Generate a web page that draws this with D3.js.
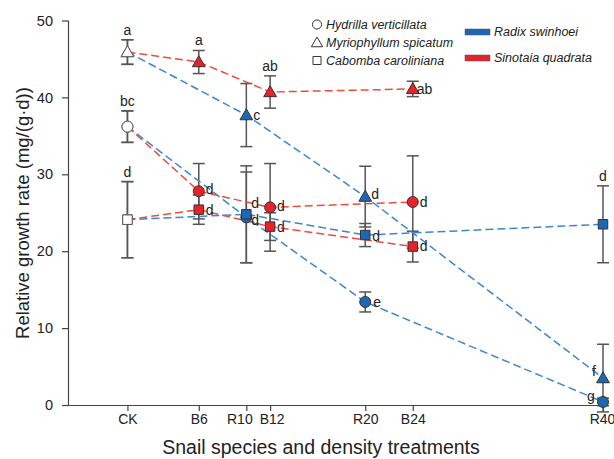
<!DOCTYPE html>
<html><head><meta charset="utf-8">
<script src="https://cdn.jsdelivr.net/npm/d3@7"></script>
<style>
body{margin:0;background:#fff;}
svg{font-family:"Liberation Sans",Arial,sans-serif;}
</style></head>
<body><svg id="c" width="614" height="459"></svg>
<script>
// ---- data ----
const tickNames = ["CK","B6","R10","B12","R20","B24","R40"];
const tickVals  = [0, 6, 10, 12, 20, 24, 40];
const yTicks = [0,10,20,30,40,50];

const radixX = [0, 10, 20, 40];
const sinoX  = [0, 6, 12, 24];

const hydRadixMean = [36.2, 24.4, 13.4, 0.4];
const hydRadixErr  = [2.05, 5.9, 1.3, 0.5];
const hydSinoMean  = [36.2, 27.8, 25.7, 26.4];
const hydSinoErr   = [2.05, 3.6, 5.7, 6.0];

const myrRadixMean = [45.9, 37.7, 27.1, 3.5];
const myrRadixErr  = [1.6, 4.1, 3.95, 4.4];
const myrSinoMean  = [45.9, 44.6, 40.7, 41.1];
const myrSinoErr   = [1.6, 1.5, 2.1, 1.0];

const cabRadixMean = [24.1, 24.8, 22.1, 23.5];
const cabRadixErr  = [4.95, 6.3, 1.5, 5.0];
const cabSinoMean  = [24.1, 25.4, 23.2, 20.6];
const cabSinoErr   = [4.95, 1.9, 1.8, 2.0];

const hydRadixLetters = ["bc","d","e","g"];
const hydSinoLetters  = ["bc","d","d","d"];
const myrRadixLetters = ["a","c","d","f"];
const myrSinoLetters  = ["a","a","ab","ab"];
const cabRadixLetters = ["d","d","d","d"];
const cabSinoLetters  = ["d","d","d","d"];

const plantNames = ["Hydrilla verticillata","Myriophyllum spicatum","Cabomba caroliniana"];
const snailNames = ["Radix swinhoei","Sinotaia quadrata"];

// ---- styles ----
const BLUE = "#1c68b4", RED = "#e6232a";
const BLUE_LINE = "#3a87d2", RED_LINE = "#ee4c3a";
const GRAY = "#555";
const tickLabelShift = {"R10": -7, "B12": 1.5, "R40": -1};

const svg = d3.select("#c");
const x = d3.scaleLinear().domain([-5, 40]).range([68, 603]);
const y = d3.scaleLinear().domain([0, 50]).range([405, 20.5]);

// axes
const gy = svg.append("g").attr("transform","translate(68,0)")
  .call(d3.axisLeft(y).tickValues(yTicks).tickSize(6).tickPadding(9).tickFormat(d3.format("d")));
gy.selectAll("text").attr("font-size", 14.5).attr("fill","#222");
const gx = svg.append("g").attr("transform","translate(0,405)")
  .call(d3.axisBottom(x).tickValues(tickVals).tickSize(6).tickPadding(3).tickFormat((d,i)=>tickNames[i]));
gx.selectAll("text").attr("font-size", 14).attr("fill","#222")
  .attr("dx", (d,i)=> tickLabelShift[tickNames[i]] || 0);
[gx,gy].forEach(g=>{g.selectAll("path,line").attr("stroke","#444").attr("stroke-width",1.2);});
gx.select(".domain").attr("d","M68,0.5H603");
gy.select(".domain").attr("d","M0.5,405V20.5");

svg.append("text").attr("x",321).attr("y",454).attr("text-anchor","middle")
  .attr("font-size",19.5).attr("fill","#222").text("Snail species and density treatments");
svg.append("text").attr("transform","translate(29,213) rotate(-90)").attr("text-anchor","middle")
  .attr("font-size",18.5).attr("fill","#222").text("Relative growth rate (mg/(g\u00b7d))");

const series = [
  {xs:radixX, m:hydRadixMean, e:hydRadixErr, shape:"circle", fill:BLUE, line:BLUE_LINE, lab:hydRadixLetters,
   off:[null,[5,-14],[8,0],[-16,-6]]},
  {xs:sinoX, m:hydSinoMean, e:hydSinoErr, shape:"circle", fill:RED, line:RED_LINE, lab:hydSinoLetters,
   off:[[0,"top"],[7,-2],[7,-1],[7,0]]},
  {xs:radixX, m:myrRadixMean, e:myrRadixErr, shape:"triangle", fill:BLUE, line:BLUE_LINE, lab:myrRadixLetters,
   off:[null,[7,0],[6,-3],[-11,-7]]},
  {xs:sinoX, m:myrSinoMean, e:myrSinoErr, shape:"triangle", fill:RED, line:RED_LINE, lab:myrSinoLetters,
   off:[[0,"top"],[0,"top"],[0,"top"],[4,0]]},
  {xs:radixX, m:cabRadixMean, e:cabRadixErr, shape:"square", fill:BLUE, line:BLUE_LINE, lab:cabRadixLetters,
   off:[null,[5,6],[7,1],[0,"top"]]},
  {xs:sinoX, m:cabSinoMean, e:cabSinoErr, shape:"square", fill:RED, line:RED_LINE, lab:cabSinoLetters,
   off:[[0,"top"],[7,0],[7,1],[7,0]]},
];

// error bars
const eb = svg.append("g");
series.forEach(s=>{
  s.xs.forEach((xv,i)=>{
    const cx = x(xv), top = y(s.m[i]+s.e[i]), bot = y(Math.max(s.m[i]-s.e[i], -0.9));
    eb.append("line").attr("x1",cx).attr("x2",cx).attr("y1",top).attr("y2",bot);
    eb.append("line").attr("x1",cx-6).attr("x2",cx+6).attr("y1",top).attr("y2",top);
    eb.append("line").attr("x1",cx-6).attr("x2",cx+6).attr("y1",bot).attr("y2",bot);
  });
});
eb.selectAll("line").attr("stroke",GRAY).attr("stroke-width",1.5);

// lines
const lg = svg.append("g");
series.forEach(s=>{
  const pts = s.xs.map((xv,i)=>[x(xv), y(s.m[i])]);
  lg.append("path").attr("d", d3.line()(pts)).attr("fill","none")
    .attr("stroke", s.line).attr("stroke-width",1.5).attr("stroke-dasharray","8,4");
});

// markers
const symType = {circle:d3.symbolCircle, triangle:d3.symbolTriangle, square:d3.symbolSquare};
const symSize = {circle:95, triangle:70, square:90};
function marker(g, shape, cx, cy, fill, stroke){
  g.append("path").attr("d", d3.symbol().type(symType[shape]).size(symSize[shape])())
    .attr("transform",`translate(${cx},${cy+(shape==="triangle"?1:0)})`)
    .attr("fill",fill).attr("stroke",stroke).attr("stroke-width",1);
}
const mg = svg.append("g");
series.forEach(s=>{
  s.xs.forEach((xv,i)=>{
    if (i===0) marker(mg, s.shape, x(xv), y(s.m[i]), "#fff", GRAY);
    else marker(mg, s.shape, x(xv), y(s.m[i]), s.fill, "#333");
  });
});

// letters
const tg = svg.append("g").attr("font-size",14).attr("fill","#222");
series.forEach(s=>{
  s.xs.forEach((xv,i)=>{
    const o = s.off[i]; if(!o) return;
    const cx = x(xv), cy = y(s.m[i]);
    if (o[1]==="top") {
      tg.append("text").attr("x",cx).attr("y",y(s.m[i]+s.e[i])-5).attr("text-anchor","middle").text(s.lab[i]);
    } else {
      tg.append("text").attr("x",cx+o[0]).attr("y",cy+o[1]).attr("dy","0.35em")
        .attr("text-anchor","start").text(s.lab[i]);
    }
  });
});

// legend
const leg = svg.append("g").attr("font-size",12.5).attr("font-style","italic").attr("fill","#222");
["circle","triangle","square"].forEach((sh,i)=>{
  const cy = 24.5 + i*18;
  leg.append("path").attr("d", d3.symbol().type(symType[sh]).size(sh==="triangle"?55:65)())
    .attr("transform",`translate(317,${cy+(sh==="triangle"?1:0)})`).attr("fill","#fff").attr("stroke","#333").attr("stroke-width",1);
  leg.append("text").attr("x",326).attr("y",cy).attr("dy","0.35em").text(plantNames[i]);
});
[BLUE, RED].forEach((c,i)=>{
  const cy = 32 + i*26;
  leg.append("rect").attr("x",465).attr("y",cy-3).attr("width",25).attr("height",6).attr("fill",c).attr("stroke","#555").attr("stroke-width",0.5);
  leg.append("text").attr("x",494).attr("y",cy).attr("dy","0.35em").text(snailNames[i]);
});
</script></body></html>
